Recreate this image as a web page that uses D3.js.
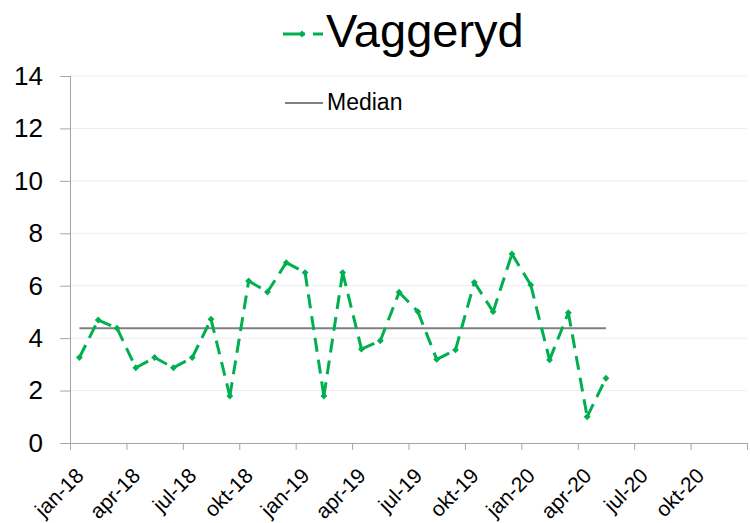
<!DOCTYPE html>
<html>
<head>
<meta charset="utf-8">
<script src="https://cdn.jsdelivr.net/npm/d3@7"></script>
<style>
  body { margin: 0; background: #fff; }
  text { font-family: "Liberation Sans", Arial, sans-serif; fill: #000; }
</style>
</head>
<body>
<div id="chart"></div>
<script>
// monthly values jan-18 .. maj-20
const values = [3.26, 4.69, 4.38, 2.87, 3.26, 2.87, 3.26, 4.72, 1.79, 6.18, 5.76, 6.88,
  6.5, 1.79, 6.5, 3.58, 3.9, 5.75, 5.01, 3.19, 3.55, 6.13, 5.01, 7.21,
  6.03, 3.17, 4.97, 1.0, 2.47];
const tickLabels = ['jan-18', 'apr-18', 'jul-18', 'okt-18', 'jan-19', 'apr-19',
  'jul-19', 'okt-19', 'jan-20', 'apr-20', 'jul-20', 'okt-20'];
const yTicks = [0, 2, 4, 6, 8, 10, 12, 14];
const seriesName = 'Vaggeryd';
const medianName = 'Median';

const width = 750, height = 523;
const green = '#00b050';

let svg = d3.select('#chart').append('svg')
    .attr('width', width)
    .attr('height', height);

// 36 months on the axis, tick every 3rd month
let x = d3.scaleLinear().domain([0, 36]).range([70, 747]);
let y = d3.scaleLinear().domain([0, 14]).range([443, 76]);

// gridlines
svg.append('g').selectAll('line')
    .data(yTicks.filter(d => d > 0))
    .enter().append('line')
    .attr('x1', x(0)).attr('x2', x(36))
    .attr('y1', d => y(d)).attr('y2', d => y(d))
    .attr('stroke', '#ededed')
    .attr('stroke-width', 1);

// y axis
let yAxis = svg.append('g')
    .attr('transform', 'translate(' + x(0) + ',0)')
    .call(d3.axisLeft(y).tickValues(yTicks).tickSize(10).tickPadding(17).tickFormat(d3.format('d')));
yAxis.select('.domain').attr('stroke', '#a6a6a6').attr('d', 'M0.5,' + y(14) + 'V' + (y(0) + 7));
yAxis.selectAll('.tick line').attr('stroke', '#a6a6a6');
yAxis.selectAll('text').style('font-size', '26px').style('font-family', '"Liberation Sans", Arial, sans-serif').attr('fill', '#000');

// x axis
let xAxis = svg.append('g')
    .attr('transform', 'translate(0,' + y(0) + ')')
    .call(d3.axisBottom(x).tickValues(d3.range(0, 37, 3)).tickSize(7).tickFormat(''));
xAxis.select('.domain').attr('stroke', '#a6a6a6').attr('d', 'M60,0.5H' + x(36));
xAxis.selectAll('.tick line').attr('stroke', '#a6a6a6');

svg.append('g').selectAll('text')
    .data(tickLabels)
    .enter().append('text')
    .attr('transform', (d, i) => 'translate(' + (x(i * 3) + 15) + ',' + 477 + ') rotate(-45)')
    .attr('text-anchor', 'end')
    .style('font-size', '21px')
    .text(d => d);

// median line
let median = d3.median(values);
svg.append('line')
    .attr('x1', x(0.5)).attr('x2', x(values.length - 0.5))
    .attr('y1', y(median)).attr('y2', y(median))
    .attr('stroke', '#808080')
    .attr('stroke-width', 2);

// series: each segment dashed on its own, like the original
let pts = values.map((v, i) => [x(i + 0.5), y(v)]);
svg.append('g').selectAll('line')
    .data(d3.pairs(pts))
    .enter().append('line')
    .attr('x1', d => d[0][0]).attr('y1', d => d[0][1])
    .attr('x2', d => d[1][0]).attr('y2', d => d[1][1])
    .attr('stroke', green)
    .attr('stroke-width', 3)
    .attr('stroke-dasharray', '14,8');

let diamond = d3.symbol().type(d3.symbolDiamond2).size(30);
svg.append('g').selectAll('path')
    .data(pts)
    .enter().append('path')
    .attr('transform', d => 'translate(' + d[0] + ',' + d[1] + ')')
    .attr('d', diamond)
    .attr('fill', green);

// legend / title
svg.append('path')
    .attr('d', 'M283,34H305M313,34H323')
    .attr('stroke', green)
    .attr('stroke-width', 3);
svg.append('path')
    .attr('transform', 'translate(302,34)')
    .attr('d', diamond)
    .attr('fill', green);
svg.append('text')
    .attr('x', 326).attr('y', 47)
    .style('font-size', '47px')
    .text(seriesName);

svg.append('line')
    .attr('x1', 285).attr('x2', 323)
    .attr('y1', 103).attr('y2', 103)
    .attr('stroke', '#808080')
    .attr('stroke-width', 2);
svg.append('text')
    .attr('x', 327).attr('y', 110)
    .style('font-size', '23px')
    .text(medianName);
</script>
</body>
</html>
